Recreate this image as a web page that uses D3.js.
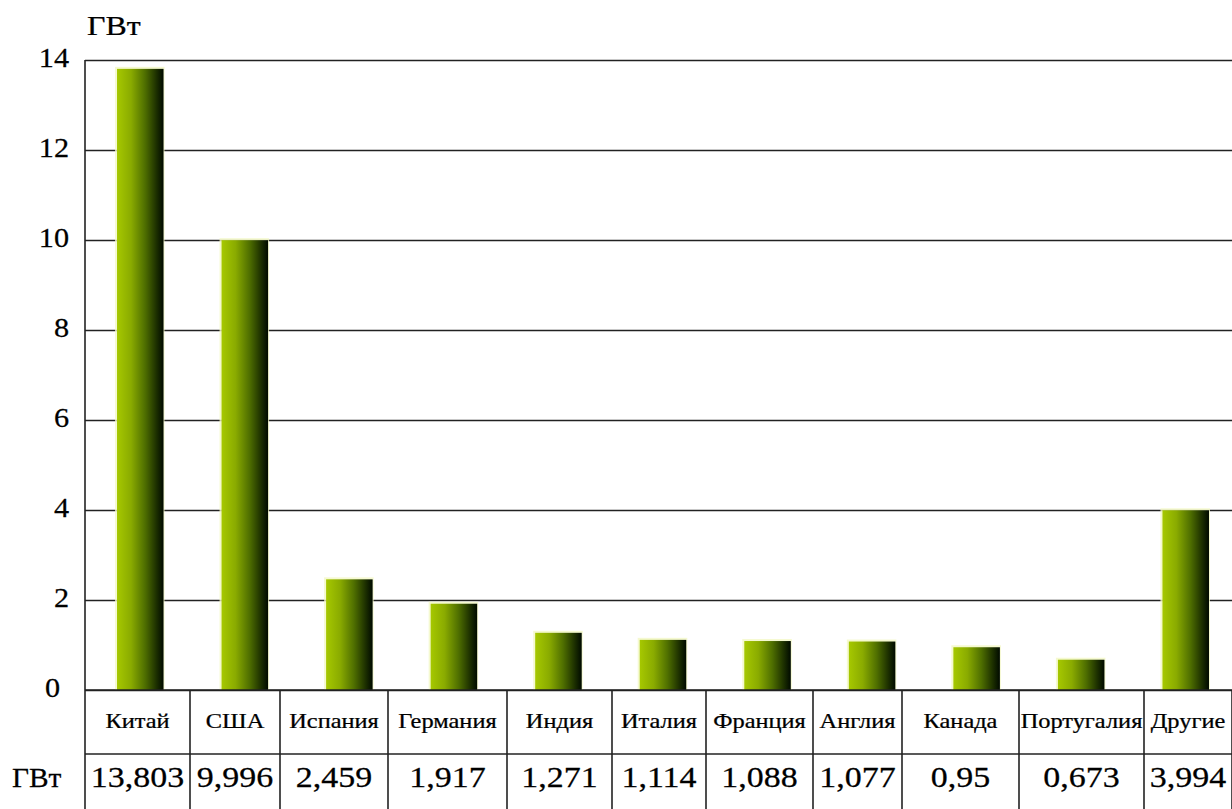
<!DOCTYPE html>
<html lang="ru">
<head>
<meta charset="utf-8">
<title>Установленная мощность ветроэнергетики, ГВт</title>
<script src="https://cdn.jsdelivr.net/npm/d3@7/dist/d3.min.js"></script>
<style>
  html, body { margin: 0; padding: 0; background: #ffffff; }
  svg { display: block; }
  text { font-family: "Liberation Serif", "Times New Roman", serif; fill: #000; stroke: #000; stroke-width: 0.25px; }
</style>
</head>
<body>
<svg id="chart" width="1232" height="809"></svg>
<script>
// Countries and installed capacity, GW
const countries = ["Китай", "США", "Испания", "Германия", "Индия", "Италия",
                   "Франция", "Англия", "Канада", "Португалия", "Другие"];
const capacity = [13.803, 9.996, 2.459, 1.917, 1.271, 1.114, 1.088, 1.077, 0.95, 0.673, 3.994];
const valueLabels = ["13,803", "9,996", "2,459", "1,917", "1,271", "1,114",
                     "1,088", "1,077", "0,95", "0,673", "3,994"];
const yTicks = [0, 2, 4, 6, 8, 10, 12, 14];
const unitLabel = "ГВт";

// Layout
const W = 1232, H = 809;
const plot = { left: 85, top: 60, bottom: 690, right: W };
const rowH = 64;                       // height of each table row
const tableEdges = [85, 190, 280, 388, 507, 612, 706, 813, 902, 1019, 1144, 1232];

const svg = d3.select("#chart");

const x = d3.scaleBand()
  .domain(countries)
  .range([88, 1238])
  .paddingInner(0.555)
  .paddingOuter(0.2775);

const y = d3.scaleLinear()
  .domain([0, 14])
  .range([plot.bottom, plot.top]);

// Bar gradient: bright yellow-green on the left fading to black on the right
const defs = svg.append("defs");
const grad = defs.append("linearGradient")
  .attr("id", "barFill")
  .attr("x1", "0%").attr("x2", "100%").attr("y1", "0%").attr("y2", "0%");
[[0, "#a6c800"], [0.3, "#8aab00"], [0.6, "#4f6f00"], [0.85, "#1c2f00"], [1, "#000a00"]]
  .forEach(([o, c]) => grad.append("stop").attr("offset", o).attr("stop-color", c));

// Horizontal grid lines at each tick
const yAxis = d3.axisLeft(y).tickValues(yTicks).tickSize(-(plot.right - plot.left)).tickFormat("");
const gy = svg.append("g")
  .attr("transform", `translate(${plot.left},0)`)
  .call(yAxis);
gy.select(".domain").remove();
gy.selectAll(".tick line").attr("stroke", "#222").attr("stroke-width", 1.6);

// Tick labels
svg.append("g").selectAll("text")
  .data(yTicks)
  .join("text")
  .attr("text-anchor", "end")
  .attr("font-size", 28)
  .attr("transform", d => `translate(${d === 0 ? 60 : 69},${y(d) + 7}) scale(1.08,1)`)
  .text(d => d);

// Unit label above the axis
svg.append("text")
  .attr("font-size", 27)
  .attr("transform", "translate(87,35) scale(1.18,1)")
  .text(unitLabel);

// Soft pale halo behind each bar
svg.append("g").selectAll("rect")
  .data(capacity)
  .join("rect")
  .attr("x", (d, i) => x(countries[i]) - 2)
  .attr("y", d => y(d) - 2)
  .attr("width", x.bandwidth() + 3)
  .attr("height", d => plot.bottom - y(d) + 2)
  .attr("fill", "#f3f7c4")
  .attr("opacity", 0.8);

// Bars
svg.append("g").selectAll("rect")
  .data(capacity)
  .join("rect")
  .attr("x", (d, i) => x(countries[i]))
  .attr("y", d => y(d))
  .attr("width", x.bandwidth())
  .attr("height", d => plot.bottom - y(d))
  .attr("fill", "url(#barFill)");

// Vertical axis line continuing down through the table
svg.append("line")
  .attr("x1", plot.left).attr("x2", plot.left)
  .attr("y1", plot.top).attr("y2", H)
  .attr("stroke", "#222").attr("stroke-width", 1.6);

// Data table under the plot
const table = svg.append("g");
table.selectAll("line.row")
  .data([plot.bottom, plot.bottom + rowH])
  .join("line")
  .attr("class", "row")
  .attr("x1", plot.left).attr("x2", W)
  .attr("y1", d => d).attr("y2", d => d)
  .attr("stroke", "#222").attr("stroke-width", 1.6);
table.selectAll("line.col")
  .data(tableEdges.slice(1))
  .join("line")
  .attr("class", "col")
  .attr("x1", d => d).attr("x2", d => d)
  .attr("y1", plot.bottom).attr("y2", H)
  .attr("stroke", "#222").attr("stroke-width", 1.6);

const colCenter = i => (tableEdges[i] + tableEdges[i + 1]) / 2;

table.selectAll("text.cat")
  .data(countries)
  .join("text")
  .attr("class", "cat")
  .attr("text-anchor", "middle")
  .attr("font-size", 20)
  .attr("transform", (d, i) => `translate(${colCenter(i)},${plot.bottom + 38}) scale(1.22,1)`)
  .text(d => d);

table.selectAll("text.val")
  .data(valueLabels)
  .join("text")
  .attr("class", "val")
  .attr("text-anchor", "middle")
  .attr("font-size", 29)
  .attr("transform", (d, i) => `translate(${colCenter(i)},${plot.bottom + 97}) scale(1.17,1)`)
  .text(d => d);

table.append("text")
  .attr("font-size", 28)
  .attr("transform", `translate(12,${plot.bottom + 97}) scale(1.05,1)`)
  .text(unitLabel);
</script>
</body>
</html>
